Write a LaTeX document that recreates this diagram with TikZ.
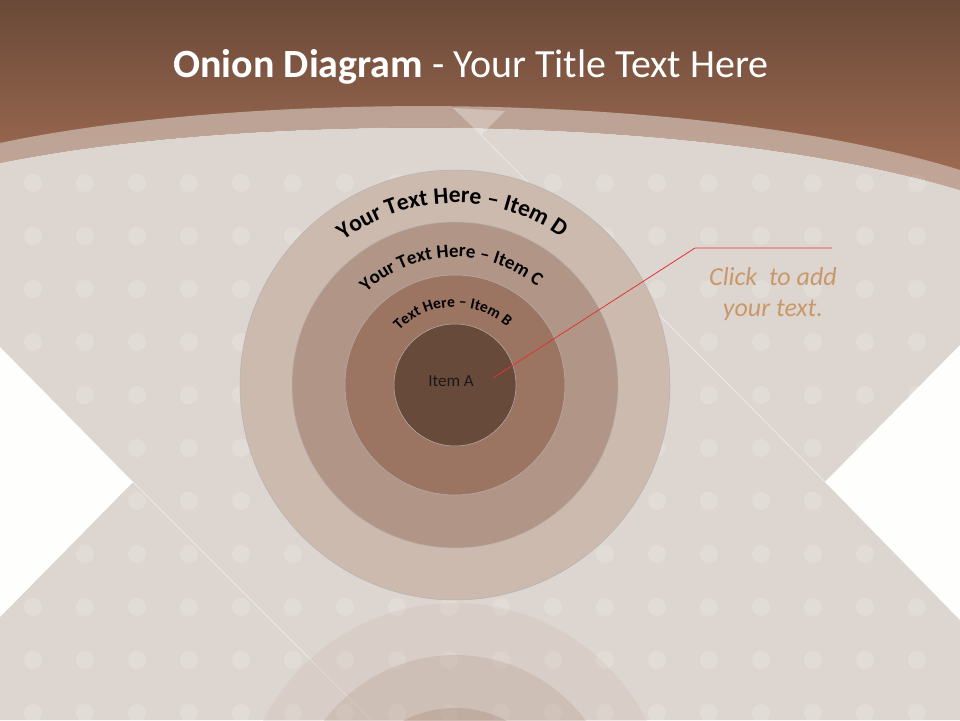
\documentclass[tikz,border=0pt]{standalone}
\usepackage{fontspec}
\setmainfont{Carlito}
\usetikzlibrary{decorations.text}
\definecolor{headtop}{RGB}{106,73,56}
\definecolor{headbot}{RGB}{166,112,86}
\definecolor{paper}{RGB}{221,213,208}
\definecolor{band}{RGB}{201,180,168}
\definecolor{ringD}{RGB}{204,186,174}
\definecolor{ringC}{RGB}{177,150,135}
\definecolor{ringB}{RGB}{155,117,98}
\definecolor{ringA}{RGB}{104,74,58}
\definecolor{notetext}{RGB}{201,152,106}
\definecolor{callout}{RGB}{222,52,52}
\begin{document}
\begin{tikzpicture}[x=1pt,y=1pt,
    layer/.style={circle,draw=black!30,line width=0.5pt,inner sep=0pt},
    dot/.style={fill=white,fill opacity=0.17},
    crease/.style={white,opacity=0.6,line width=0.6pt}]
    \useasboundingbox (0,0) rectangle (960,720);
    \clip (0,0) rectangle (960,720);
    % header and paper
    \shade[top color=headtop,bottom color=headbot] (0,520) rectangle (960,720);
    \fill[paper] (0,557) .. controls (250,608) and (700,608) .. (960,530) -- (960,0) -- (0,0) -- cycle;
    \foreach \i in {0,...,17}
        \foreach \j in {0,...,10}
            \fill[dot] ({33+52*\i},{537-53*\j}) circle (9);
    \fill[band,opacity=0.8] (0,577) .. controls (250,630) and (700,630) .. (960,550) -- (960,530) .. controls (700,608) and (250,608) .. (0,557) -- cycle;
    \fill[white,opacity=0.3] (453,612) -- (505,609) -- (481,585) -- cycle;
    \draw[crease] (481,585) -- (825,238);
    \draw[crease] (133,238) -- (371,0);
    \fill[white!97!paper] (0,373) -- (133,238) -- (0,103) -- cycle;
    \fill[white!97!paper] (960,375) -- (825,238) -- (960,100) -- cycle;
    % reflection
    \begin{scope}[fill opacity=0.25]
        \fill[ringD] (455,-98) circle (215);
        \fill[ringC] (455,-98) circle (163);
        \fill[ringB] (455,-98) circle (110);
    \end{scope}
    % onion
    \node[layer,fill=ringD,minimum size=430pt] (layerD) at (455,335) {};
    \node[layer,fill=ringC,minimum size=326pt] (layerC) at (455,335) {};
    \node[layer,fill=ringB,minimum size=220pt] (layerB) at (455,335) {};
    \node[layer,fill=ringA,minimum size=122pt] (layerA) at (455,335) {};
    \path[decorate,decoration={text along path,text align=center,
        text={|\fontsize{23.5}{23.5}\selectfont\bfseries|Your Text Here – Item D}}]
        (layerD.center) ++(154:182) arc (154:28:182);
    \path[decorate,decoration={text along path,text align=center,
        text={|\fontsize{19}{19}\selectfont\bfseries|Your Text Here – Item C}}]
        (layerC.center) ++(154:128) arc (154:30:128);
    \path[decorate,decoration={text along path,text align=center,
        text={|\fontsize{15.5}{15.5}\selectfont\bfseries|Text Here – Item B}}]
        (layerB.center) ++(162:78) arc (162:22:78);
    \node[font=\fontsize{17}{17}\selectfont,text=black!90] (labelA) at (451,339) {Item A};
    % callout
    \coordinate (pin) at (493,342);
    \coordinate (bend) at (695,472);
    \coordinate (lineend) at (832,472);
    \draw[callout,line width=0.8pt] (pin) -- (bend) -- (lineend);
    \node[text=notetext,font=\itshape\fontsize{26}{31}\selectfont,align=center] (note) at (773,426) {Click\ \ to add\\your text.};
    \node[white,font=\fontsize{40}{40}\selectfont] (title) at (471,653) {\textbf{Onion Diagram} - Your Title Text Here};
\end{tikzpicture}
\end{document}
